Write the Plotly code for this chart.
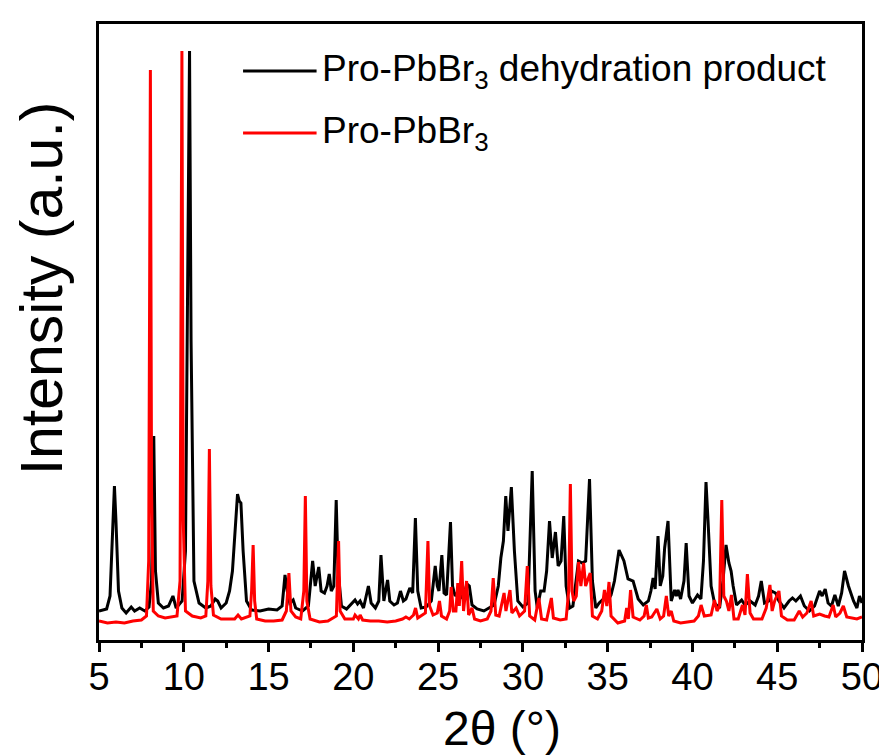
import plotly.graph_objects as go

# ---- data (2theta in degrees, intensity in a.u.) ----
black_2theta = [
    5.0, 5.45, 5.65, 5.8, 5.91, 6.0, 6.15, 6.35, 6.6, 6.9, 7.1, 7.4, 7.7, 7.95, 8.1, 8.23, 8.33, 8.5, 8.8, 9.1,
    9.36, 9.55, 9.9, 10.1, 10.25, 10.34, 10.43, 10.6, 10.9, 11.3, 11.6, 11.85, 12.0, 12.2, 12.5, 12.7, 12.87, 13.05, 13.17, 13.27,
    13.37, 13.5, 13.7, 14.0, 14.5, 15.0, 15.5, 15.8, 15.97, 16.1, 16.25, 16.45, 16.6, 17.0, 17.35, 17.6, 17.75, 17.96, 18.1, 18.3,
    18.45, 18.58, 18.7, 18.85, 18.99, 19.1, 19.3, 19.6, 19.9, 20.1, 20.25, 20.4, 20.6, 20.89, 21.05, 21.3, 21.5, 21.63, 21.8, 22.02,
    22.15, 22.4, 22.6, 22.78, 22.95, 23.1, 23.33, 23.5, 23.66, 23.8, 24.0, 24.3, 24.6, 24.83, 24.95, 25.05, 25.22, 25.35, 25.5, 25.73,
    25.85, 26.0, 26.3, 26.45, 26.7, 26.84, 27.0, 27.3, 27.7, 28.0, 28.3, 28.55, 28.7, 28.85, 28.99, 29.12, 29.32, 29.5, 29.7, 30.0,
    30.3, 30.55, 30.72, 30.85, 31.05, 31.25, 31.4, 31.57, 31.73, 31.92, 32.08, 32.25, 32.41, 32.55, 32.75, 32.95, 33.15, 33.28, 33.5, 33.7,
    33.93, 34.1, 34.3, 34.5, 34.75, 35.0, 35.2, 35.4, 35.67, 35.96, 36.2, 36.5, 36.8, 37.1, 37.4, 37.55, 37.68, 37.8, 37.97, 38.1,
    38.25, 38.36, 38.56, 38.75, 38.95, 39.05, 39.15, 39.3, 39.5, 39.63, 39.8, 40.0, 40.3, 40.5, 40.65, 40.8, 40.92, 41.1, 41.3, 41.6,
    41.8, 41.98, 42.15, 42.28, 42.4, 42.6, 42.9, 43.1, 43.4, 43.7, 43.9, 44.06, 44.25, 44.5, 44.65, 44.9, 45.1, 45.4, 45.7, 45.9,
    46.1, 46.37, 46.6, 46.9, 47.2, 47.5, 47.65, 47.83, 48.0, 48.2, 48.4, 48.6, 48.8, 48.97, 49.2, 49.5, 49.7, 49.85, 50.0,
]
black_intensity = [
    30, 32, 45, 110, 155, 120, 50, 33, 28, 34, 30, 33, 30, 34, 60, 205, 70, 38, 33, 35,
    45, 33, 40, 90, 400, 590, 300, 60, 38, 33, 35, 42, 40, 33, 38, 50, 70, 120, 147, 140,
    138, 90, 40, 31, 30, 32, 31, 35, 66, 50, 38, 41, 33, 30, 35, 80, 55, 74, 50, 48,
    55, 67, 50, 55, 141, 70, 35, 32, 38, 41, 37, 40, 33, 55, 38, 33, 40, 86, 40, 61,
    40, 36, 38, 50, 40, 42, 53, 48, 123, 50, 33, 34, 40, 75, 55, 50, 86, 48, 46, 119,
    55, 45, 52, 42, 57, 55, 36, 32, 30, 33, 36, 55, 83, 100, 145, 110, 154, 90, 40, 34,
    38, 170, 50, 33, 50, 50, 70, 120, 83, 109, 75, 80, 125, 55, 33, 35, 60, 80, 78, 80,
    162, 60, 33, 38, 42, 40, 46, 60, 91, 80, 62, 60, 42, 36, 40, 50, 63, 52, 105, 55,
    65, 93, 120, 40, 51, 45, 51, 42, 60, 98, 45, 38, 46, 42, 80, 159, 120, 55, 38, 33,
    60, 96, 78, 70, 55, 36, 41, 36, 40, 36, 45, 60, 38, 40, 50, 48, 40, 33, 40, 43,
    40, 45, 35, 30, 35, 50, 45, 52, 38, 35, 46, 35, 48, 70, 55, 40, 33, 45, 38,
]

red_2theta = [
    5.0, 5.5, 6.0, 6.5, 7.0, 7.5, 7.8, 7.93, 8.03, 8.1, 8.2, 8.5, 8.9, 9.3, 9.6, 9.78, 9.89, 9.97, 10.1, 10.5,
    11.0, 11.3, 11.42, 11.51, 11.6, 11.75, 12.2, 12.7, 13.0, 13.2, 13.4, 13.9, 14.0, 14.09, 14.18, 14.3, 14.8, 15.3, 15.8, 16.05,
    16.2, 16.32, 16.6, 16.9, 17.08, 17.17, 17.26, 17.45, 18.0, 18.5, 19.0, 19.13, 19.22, 19.5, 20.0, 20.1, 20.3, 20.4, 20.55, 21.0,
    21.5, 22.0, 22.5, 22.9, 23.1, 23.3, 23.55, 23.67, 23.8, 24.25, 24.4, 24.5, 24.7, 24.95, 25.08, 25.2, 25.5, 25.68, 25.77, 25.9,
    26.05, 26.16, 26.25, 26.39, 26.5, 26.68, 26.8, 27.0, 27.15, 27.5, 27.9, 28.12, 28.25, 28.4, 28.6, 28.89, 29.0, 29.24, 29.35, 29.6,
    29.8, 30.1, 30.26, 30.4, 30.7, 30.94, 31.1, 31.4, 31.68, 31.8, 32.2, 32.55, 32.7, 32.8, 32.9, 33.0, 33.15, 33.28, 33.42, 33.58,
    33.7, 33.8, 33.97, 34.1, 34.4, 34.65, 34.81, 34.95, 35.08, 35.2, 35.6, 36.0, 36.12, 36.22, 36.35, 36.5, 36.9, 37.15, 37.28, 37.4,
    37.6, 37.9, 38.1, 38.3, 38.46, 38.6, 38.75, 38.9, 39.3, 39.7, 40.1, 40.35, 40.51, 40.7, 41.1, 41.3, 41.45, 41.6, 41.73, 41.85,
    42.0, 42.15, 42.3, 42.45, 42.7, 42.95, 43.1, 43.24, 43.4, 43.6, 44.1, 44.35, 44.57, 44.7, 44.85, 45.1, 45.25, 45.6, 46.0, 46.3,
    46.5, 46.75, 47.0, 47.15, 47.5, 47.8, 48.05, 48.3, 48.45, 48.7, 48.9, 49.1, 49.4, 49.7, 50.0,
]
red_intensity = [
    20, 18, 19, 18, 20, 21, 25, 80, 571, 150, 30, 25, 23, 24, 25, 60, 590, 120, 30, 25,
    23, 25, 60, 192, 55, 26, 22, 22, 22, 26, 22, 25, 50, 96, 40, 22, 20, 20, 21, 30,
    68, 30, 24, 22, 50, 145, 40, 22, 19, 20, 25, 100, 30, 22, 22, 26, 22, 26, 21, 20,
    20, 19, 20, 22, 24, 22, 26, 33, 23, 28, 100, 35, 26, 28, 40, 25, 22, 30, 54, 30,
    30, 58, 35, 80, 30, 60, 26, 33, 22, 20, 22, 30, 63, 26, 25, 48, 30, 51, 28, 33,
    25, 30, 75, 25, 21, 43, 22, 21, 43, 23, 21, 22, 50, 157, 50, 40, 45, 79, 55, 78,
    55, 60, 68, 25, 22, 30, 51, 35, 59, 25, 18, 20, 33, 22, 51, 24, 21, 25, 36, 23,
    24, 32, 22, 25, 45, 25, 30, 20, 18, 19, 20, 25, 36, 25, 26, 41, 30, 35, 141, 45,
    40, 30, 46, 22, 22, 36, 26, 67, 28, 22, 22, 33, 56, 30, 40, 50, 25, 21, 21, 30,
    24, 28, 40, 25, 27, 25, 24, 36, 24, 28, 35, 24, 23, 22, 24,
]

series_names = ["Pro-PbBr<sub>3</sub> dehydration product", "Pro-PbBr<sub>3</sub>"]
series_colors = ["#000000", "#ff0000"]
x_tick_values = [5, 10, 15, 20, 25, 30, 35, 40, 45, 50]
x_tick_labels = ["5", "10", "15", "20", "25", "30", "35", "40", "45", "50"]
x_title = "2θ (°)"
y_title = "Intensity (a.u.)"

assert len(black_2theta) == len(black_intensity)
assert len(red_2theta) == len(red_intensity)

FONT = "Arial, Liberation Sans, sans-serif"

fig = go.Figure()
fig.add_trace(go.Scatter(x=black_2theta, y=black_intensity, mode="lines", name=series_names[0],
                         line=dict(color=series_colors[0], width=3), showlegend=False))
fig.add_trace(go.Scatter(x=red_2theta, y=red_intensity, mode="lines", name=series_names[1],
                         line=dict(color=series_colors[1], width=3), showlegend=False))

# plot-area geometry in pixels (for the hand-placed legend and titles)
W, H = 887, 756
L, R, T, B = 91, 28, 16, 124
pw, ph = W - L - R, H - T - B


def px(xp):
    return (xp - L) / pw


def py(yp):
    return (H - B - yp) / ph


shapes = []
annotations = []
for yy, name, col in [(63, series_names[0], series_colors[0]), (125, series_names[1], series_colors[1])]:
    shapes.append(dict(type="line", xref="paper", yref="paper", x0=px(236), x1=px(310), y0=py(yy), y1=py(yy),
                       line=dict(color=col, width=2.8)))
    annotations.append(dict(text=name, xref="paper", yref="paper", x=px(313), y=py(yy), xanchor="left",
                            yanchor="middle", showarrow=False, font=dict(family=FONT, size=37, color="black")))

annotations.append(dict(text=y_title, xref="paper", yref="paper", x=px(34), y=py(280), xanchor="center",
                        yanchor="middle", textangle=-90, showarrow=False,
                        font=dict(family=FONT, size=59, color="black")))
annotations.append(dict(text=x_title, xref="paper", yref="paper", x=px(497), y=py(720), xanchor="center",
                        yanchor="middle", showarrow=False, font=dict(family=FONT, size=48, color="black")))

fig.update_layout(
    width=W, height=H,
    margin=dict(l=L, r=R, t=T, b=B),
    paper_bgcolor="white", plot_bgcolor="white",
    font=dict(family=FONT, color="black"),
    shapes=shapes, annotations=annotations,
    showlegend=False,
)
fig.update_xaxes(
    range=[5, 50], tickmode="array", tickvals=x_tick_values, ticktext=x_tick_labels,
    ticks="outside", ticklen=9, tickwidth=2.5, tickcolor="black", ticklabelstandoff=-8,
    minor=dict(ticks="outside", ticklen=5, tickwidth=2.5, tickcolor="black", dtick=2.5, tick0=5),
    showline=True, linewidth=3, linecolor="black", mirror=True,
    showgrid=False, zeroline=False, tickfont=dict(family=FONT, size=38, color="black"),
)
fig.update_yaxes(
    range=[1, 617], showticklabels=False, ticks="",
    showline=True, linewidth=3, linecolor="black", mirror=True,
    showgrid=False, zeroline=False,
)

fig.write_html("out.html")
